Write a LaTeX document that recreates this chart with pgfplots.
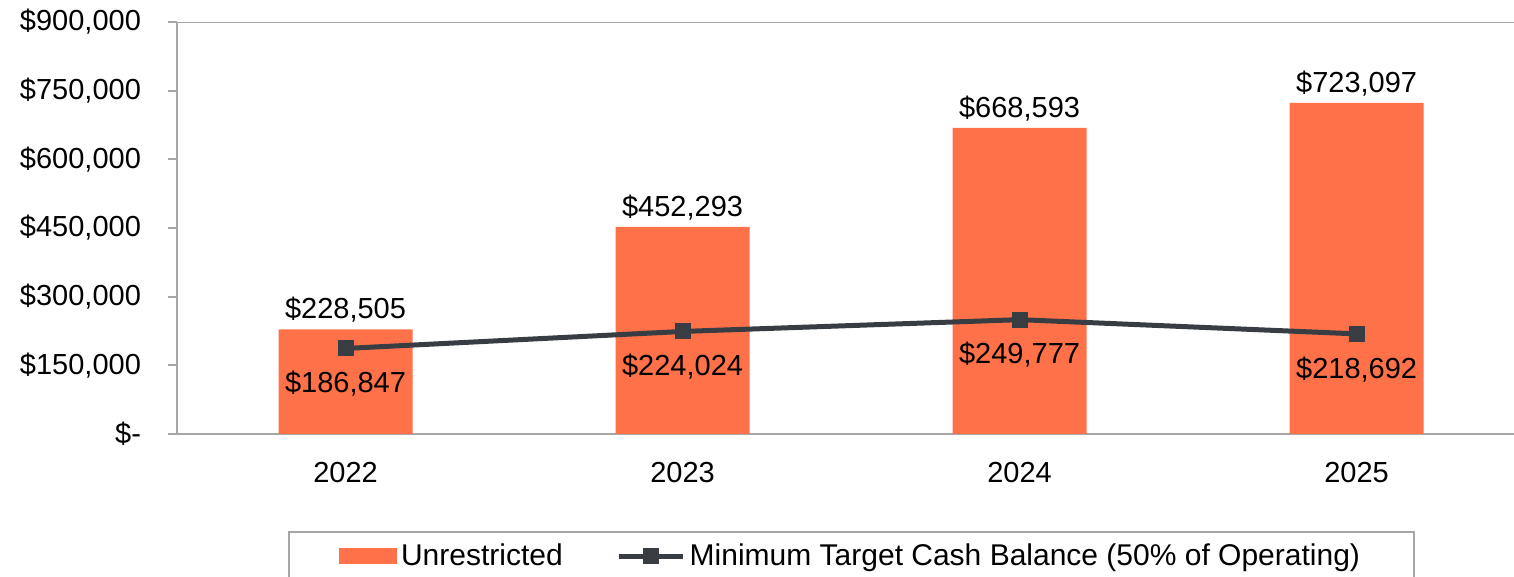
\documentclass[border=0pt]{standalone}
\usepackage{pgfplots}
\pgfplotsset{compat=1.18}
\usepackage{fontspec}
\setmainfont{Liberation Sans}

\definecolor{barorange}{RGB}{255,113,72}
\definecolor{linegray}{RGB}{55,61,66}
\definecolor{axisgray}{RGB}{166,166,166}

\pgfplotsset{
    barleg/.style={legend image code/.code={\fill[barorange] (0pt,-4pt) rectangle (29pt,4pt);}},
    lineleg/.style={legend image code/.code={%
        \draw[##1, mark repeat=2, mark phase=2] plot coordinates {(0pt,0pt) (16pt,0pt) (32pt,0pt)};}},
}

\begin{document}
\begin{tikzpicture}[font=\fontsize{14.5}{17}\selectfont]
\begin{axis}[
    name=ax,
    scale only axis,
    width=668.5pt, height=206pt,
    xmin=-0.5, xmax=3.467,
    ymin=0, ymax=900000,
    scaled y ticks=false,
    axis x line*=bottom,
    axis y line*=left,
    axis line style={axisgray, line width=1pt},
    every tick/.style={axisgray, line width=1pt},
    tick align=outside,
    major tick length=4.5pt,
    minor tick length=5pt,
    xtick={0,1,2,3},
    xticklabels={2022,2023,2024,2025},
    x tick style={draw=none},
    minor xtick={-0.5,0.5,1.5,2.5},
    minor x tick style={axisgray, line width=1pt},
    xticklabel style={yshift=-6pt},
    ytick={0,150000,300000,450000,600000,750000,900000},
    yticklabels={\$-,{\$150,000},{\$300,000},{\$450,000},{\$600,000},{\$750,000},{\$900,000}},
    yticklabel style={xshift=-10pt},
    legend style={
        at={(0.5045,0)}, anchor=north, yshift=-48.5pt,
        draw=axisgray, line width=1pt,
        inner xsep=25pt, inner ysep=4pt,
        legend columns=2,
        /tikz/every even column/.append style={column sep=25pt},
        font=\fontsize{15}{18}\selectfont,
    },
    legend cell align=left,
]
\addplot[
    ybar, bar width=67pt, fill=barorange, draw=none,
    point meta=explicit symbolic,
    nodes near coords,
    every node near coord/.append style={black},
    barleg,
] coordinates {
    (0,228505) [\$228,505]
    (1,452293) [\$452,293]
    (2,668593) [\$668,593]
    (3,723097) [\$723,097]
};
\addlegendentry{Unrestricted}

\addplot[
    color=linegray, line width=2.5pt,
    mark=square*, mark size=3.75pt, mark options={solid, line width=0pt},
    point meta=explicit symbolic,
    nodes near coords,
    every node near coord/.append style={black, anchor=north, yshift=-8pt},
    lineleg,
] coordinates {
    (0,186847) [\$186,847]
    (1,224024) [\$224,024]
    (2,249777) [\$249,777]
    (3,218692) [\$218,692]
};
\addlegendentry{Minimum Target Cash Balance (50\% of Operating)}

\draw[axisgray, line width=1pt] ([xshift=-4.5pt]rel axis cs:0,1) -- (rel axis cs:1,1);
\end{axis}
\pgfresetboundingbox
\path[use as bounding box] ([xshift=-88.5pt, yshift=-71.5pt]ax.south west) rectangle ([yshift=11pt]ax.north east);
\end{tikzpicture}
\end{document}
